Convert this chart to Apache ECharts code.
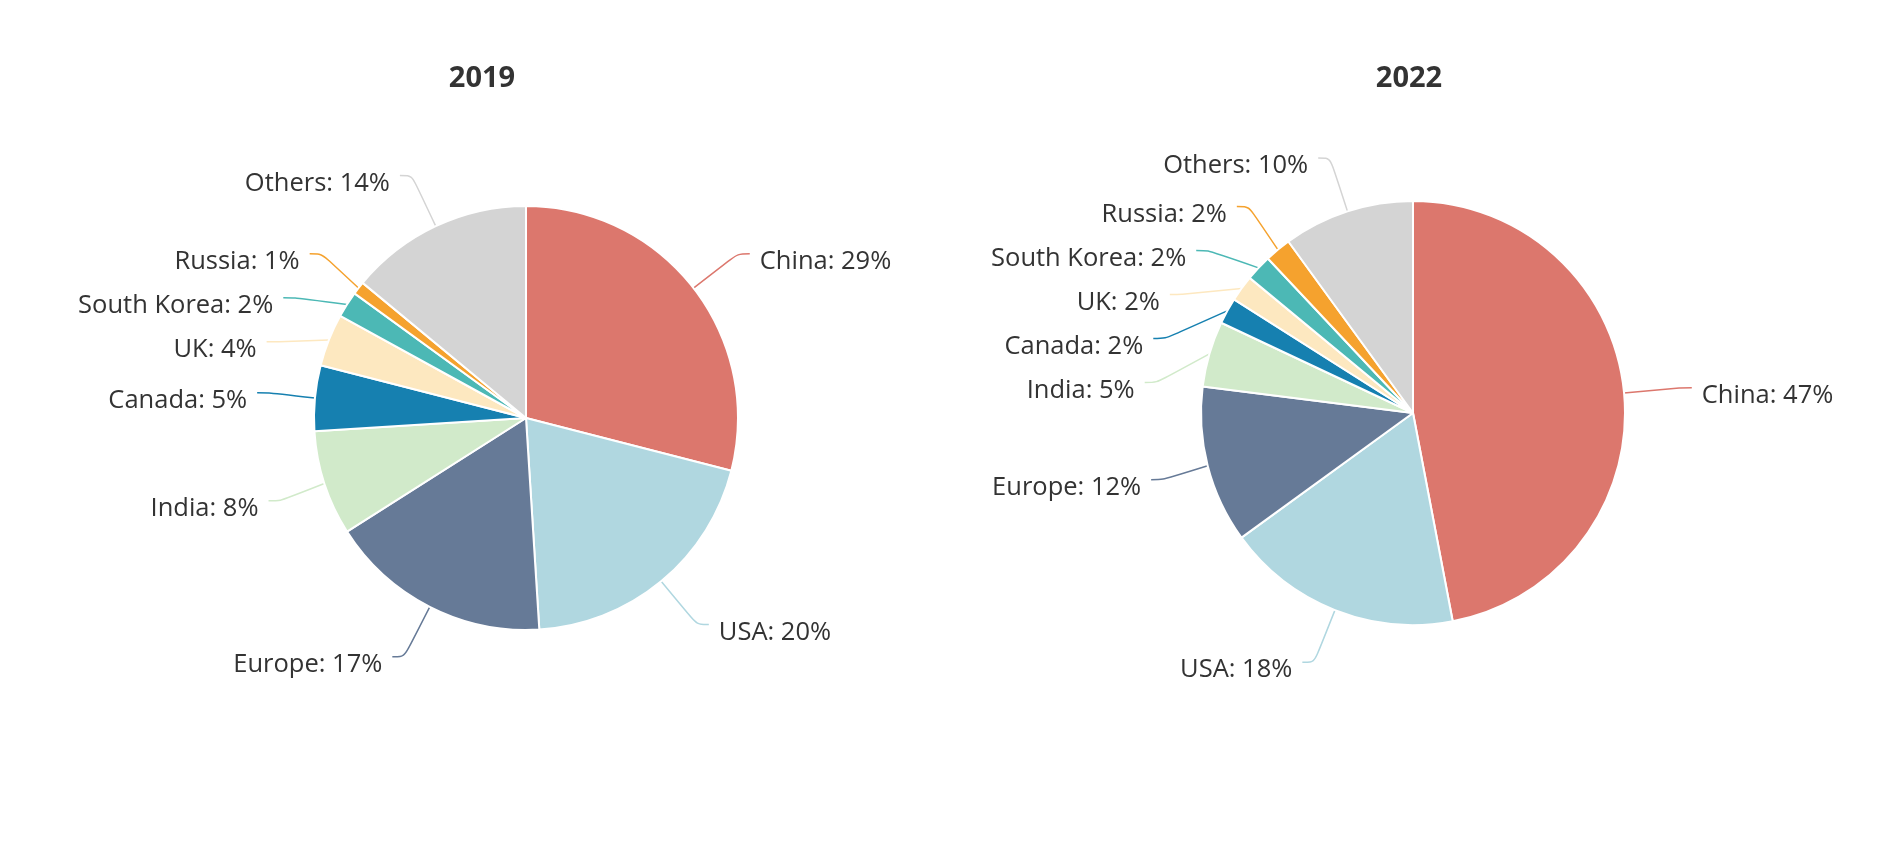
<!DOCTYPE html>
<html>
<head>
<meta charset="utf-8">
<title>Pie 2019 / 2022</title>
<script src="https://cdn.jsdelivr.net/npm/echarts@6/dist/echarts.min.js"></script>
<style>
	html, body {
		margin: 0;
		padding: 0;
		background: #fff;
	}
	#chart {
		width: 1896px;
		height: 860px;
	}
</style>
</head>
<body>
<div id="chart"></div>
<script>
	// 数据
	const categories = ["China", "USA", "Europe", "India", "Canada", "UK", "South Korea", "Russia", "Others"];
	const values2019 = [29, 20, 17, 8, 5, 4, 2, 1, 14];
	const values2022 = [47, 18, 12, 5, 2, 2, 2, 2, 10];
	const years = ["2019", "2022"];
	const colors = ["#dc776d", "#b0d7e0", "#667a97", "#d1eaca", "#1680b0", "#fde8c0", "#4cb8b5", "#f5a22e", "#d4d4d4"];

	const toData = (vals) => categories.map((name, i) => ({ name: name, value: vals[i] }));

	const pieSeries = (name, vals, center) => ({
		name: name,
		type: "pie",
		radius: 212,
		center: center,
		startAngle: 90,
		clockwise: true,
		avoidLabelOverlap: true,
		itemStyle: {
			borderColor: "#fff",
			borderWidth: 2,
		},
		label: {
			show: true,
			formatter: "{t|{b}: {c}%}",
			distanceToLabelLine: 10,
			rich: {
				// 文字比引导线末端略低
				t: {
					fontFamily: "Open Sans",
					fontSize: 25.5,
					lineHeight: 36,
					padding: [16, 0, 0, 0],
					color: "#333",
				},
			},
		},
		labelLine: {
			show: true,
			length: 56,
			length2: 12,
			smooth: true,
			lineStyle: {
				width: 1.5,
			},
		},
		emphasis: { disabled: true },
		data: toData(vals),
	});

	const chart = echarts.init(document.getElementById("chart"));
	const option = {
		color: colors,
		animation: false,
		title: [
			{
				text: years[0],
				left: 477,
				top: 59,
				textAlign: "center",
				textStyle: { fontFamily: "Open Sans", fontSize: 29, fontWeight: "bold", color: "#333" },
			},
			{
				text: years[1],
				left: 1404,
				top: 59,
				textAlign: "center",
				textStyle: { fontFamily: "Open Sans", fontSize: 29, fontWeight: "bold", color: "#333" },
			},
		],
		series: [
			pieSeries(years[0], values2019, [526, 418]),
			pieSeries(years[1], values2022, [1413, 413]),
		],
	};
	chart.setOption(option);
</script>
</body>
</html>
